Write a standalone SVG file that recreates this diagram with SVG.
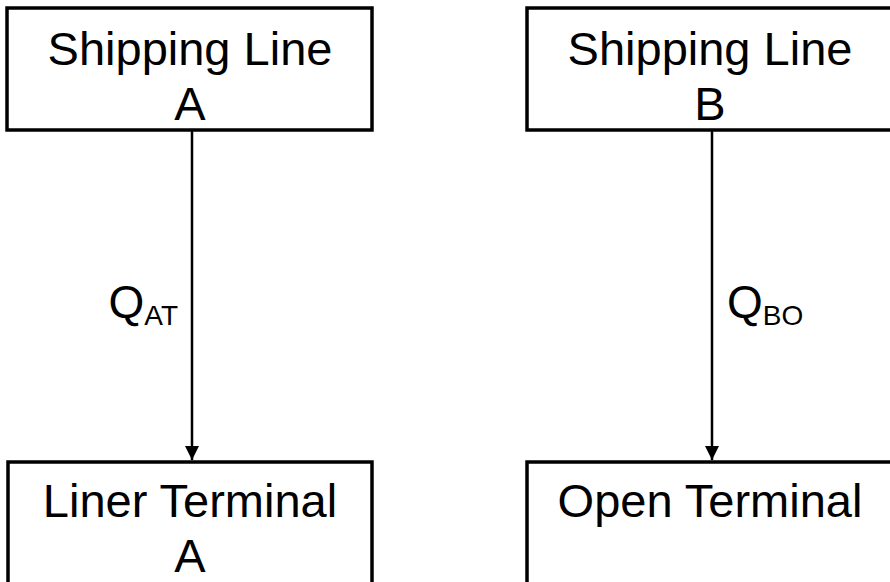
<svg xmlns="http://www.w3.org/2000/svg" width="890" height="582" viewBox="0 0 890 582">
<style>
.box{fill:#fff;stroke:#000;stroke-width:3.5}
.lbl{font-family:"Liberation Sans",Arial,sans-serif;font-size:47px;fill:#000;text-anchor:middle}
.q{font-family:"Liberation Sans",Arial,sans-serif;font-size:46px;fill:#000}
.sub{font-size:28px}
.edge{stroke:#000;stroke-width:2.5;fill:none}
</style>
<defs>
<marker id="arr" markerUnits="userSpaceOnUse" markerWidth="14" markerHeight="16" refX="14" refY="7" orient="auto">
<path d="M0,0 L14,7 L0,14 Z" fill="#000"/>
</marker>
</defs>
<g id="ship-a"><rect class="box" x="7" y="8" width="365" height="122"/><text class="lbl" x="190" y="65">Shipping Line</text><text class="lbl" x="190" y="120">A</text></g>
<g id="ship-b"><rect class="box" x="527" y="8" width="380" height="122"/><text class="lbl" x="710" y="65">Shipping Line</text><text class="lbl" x="710" y="120">B</text></g>
<g id="term-a"><rect class="box" x="8" y="462" width="364" height="200"/><text class="lbl" x="190" y="517">Liner Terminal</text><text class="lbl" x="190" y="572">A</text></g>
<g id="term-b"><rect class="box" x="527" y="462" width="400" height="200"/><text class="lbl" x="710" y="517">Open Terminal</text></g>
<g id="connectors">
<line class="edge" x1="192" y1="130" x2="192" y2="460" marker-end="url(#arr)"/>
<line class="edge" x1="712" y1="130" x2="712" y2="460" marker-end="url(#arr)"/>
<text class="q" x="178" y="318" text-anchor="end">Q<tspan class="sub" dy="7">AT</tspan></text>
<text class="q" x="727" y="318">Q<tspan class="sub" dy="7">BO</tspan></text>
</g>
</svg>
